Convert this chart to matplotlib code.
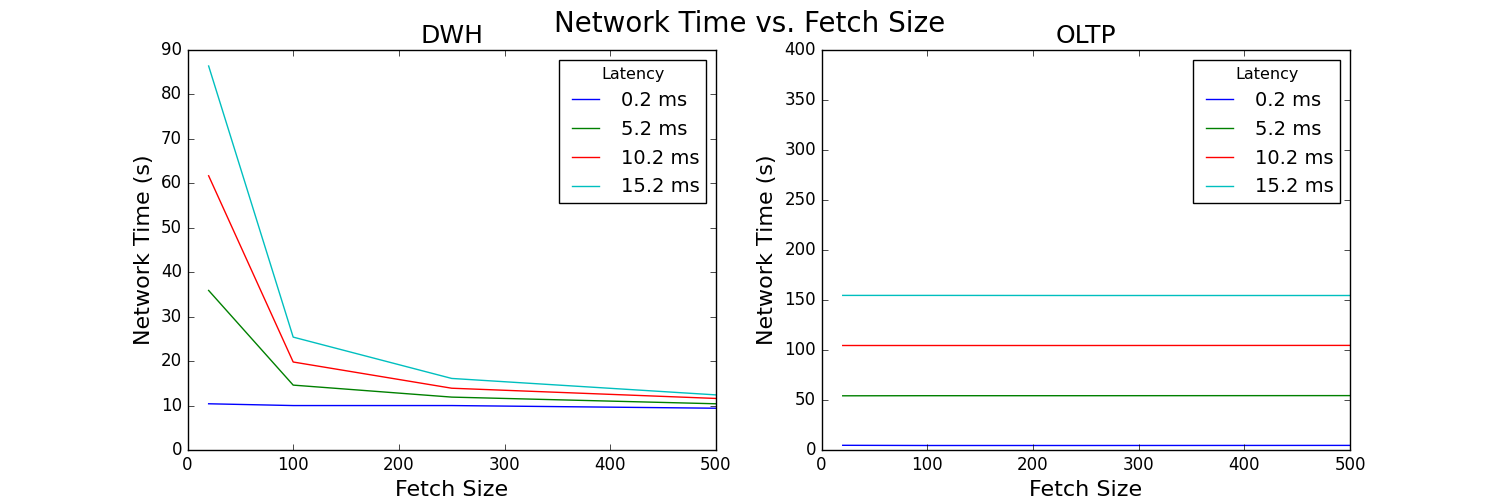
import matplotlib
matplotlib.use("Agg")
import matplotlib.pyplot as plt

plt.style.use("classic")

fetch_sizes = [20, 100, 250, 500]
latencies = ["0.2 ms", "5.2 ms", "10.2 ms", "15.2 ms"]
colors = ["b", "g", "r", "c"]

dwh_02 = [10.4, 10.0, 10.0, 9.4]
dwh_52 = [35.9, 14.6, 11.9, 10.4]
dwh_102 = [61.7, 19.8, 13.9, 11.6]
dwh_152 = [86.4, 25.4, 16.1, 12.4]

oltp_02 = [4.7, 4.5, 4.5, 4.6]
oltp_52 = [54.2, 54.3, 54.3, 54.4]
oltp_102 = [104.5, 104.5, 104.5, 104.6]
oltp_152 = [154.6, 154.6, 154.5, 154.5]

dwh = [dwh_02, dwh_52, dwh_102, dwh_152]
oltp = [oltp_02, oltp_52, oltp_102, oltp_152]

fig, axes = plt.subplots(1, 2, figsize=(15, 5), dpi=100)
fig.patch.set_facecolor("white")
fig.suptitle("Network Time vs. Fetch Size", fontsize=20)

for ax, data, title, ylim in [(axes[0], dwh, "DWH", (0, 90)), (axes[1], oltp, "OLTP", (0, 400))]:
    for vals, lab, c in zip(data, latencies, colors):
        ax.plot(fetch_sizes, vals, color=c, label=lab)
    ax.set_title(title, fontsize=18)
    ax.set_xlabel("Fetch Size", fontsize=16)
    ax.set_ylabel("Network Time (s)", fontsize=16)
    ax.set_xlim(0, 500)
    ax.set_ylim(*ylim)
    ax.legend(title="Latency", loc="upper right", fontsize=14,
              title_fontsize=11.5, borderpad=0.35, labelspacing=0.5)

fig.savefig("out.png", dpi=100, facecolor="white")
